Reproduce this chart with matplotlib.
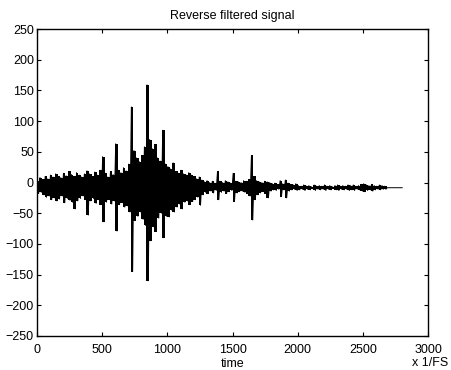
import numpy as np
import matplotlib.pyplot as plt

plt.rcParams['font.family'] = ['Liberation Sans', 'DejaVu Sans']

# envelope of the signal, one hi/lo pair per 20-sample bin
bin_width = 20
baseline = -8.5
sig_hi = [2, 8, 5, 10, 6, 12, 9, 14, 10, 8, 15, 11, 18, 13, 10, 16, 12, 9, 14, 19,
          14, 10, 17, 12, 20, 42, 15, 9, 18, 13, 63, 20, 16, 24, 19, 30, 123, 52, 40, 34,
          44, 58, 159, 70, 55, 62, 40, 35, 85, 30, 26, 22, 32, 18, 15, 20, 14, 12, 16, 12,
          10, 6, 9, 4, 1, 3, 0, 2, -1, 18, 2, 0, 3, 1, -1, 15, 2, 1, 0, 3,
          2, 5, 44, 10, 3, 1, 0, 2, 1, 0, -2, -1, -3, 3, -2, 4, -1, -3, -4, -2,
          -5, -6, -4, -6, -5, -7, -4, -6, -5, -6, -4, -6, -5, -7, -5, -4, -6, -5, -6, -4,
          -5, -4, -6, -5, -3, -2, -4, -5, -3, -5, -6, -4, -5, -6, -8.5, -8.5, -8.5, -8.5, -8.5, -8.5]
sig_lo = [-18, -16, -20, -24, -22, -28, -25, -30, -27, -22, -33, -26, -29, -32, -43, -30, -26, -22, -28, -53,
          -30, -26, -34, -28, -36, -64, -32, -28, -35, -30, -79, -36, -33, -40, -38, -48, -145, -62, -55, -48,
          -60, -70, -160, -95, -72, -80, -58, -50, -90, -55, -56, -45, -48, -40, -35, -43, -32, -30, -36, -31,
          -28, -24, -37, -20, -16, -18, -14, -17, -13, -28, -16, -14, -18, -15, -13, -31, -17, -15, -14, -16,
          -18, -22, -61, -28, -20, -17, -15, -18, -25, -14, -12, -13, -11, -23, -12, -25, -14, -12, -11, -13,
          -12, -11, -13, -11, -12, -10, -13, -11, -12, -11, -13, -11, -12, -10, -12, -13, -11, -12, -11, -13,
          -12, -13, -11, -12, -14, -15, -13, -12, -14, -12, -11, -12, -11, -11, -8.5, -8.5, -8.5, -8.5, -8.5, -8.5]

n_bins = len(sig_hi)
centers = np.arange(n_bins) * bin_width + bin_width / 2

# zigzag trace: hi then lo inside each bin
xs = [0]
ys = [baseline]
for i in range(n_bins):
    xs += [i * bin_width + 5, i * bin_width + 15]
    ys += [sig_hi[i], sig_lo[i]]
xs.append(n_bins * bin_width)
ys.append(baseline)

fig = plt.figure(figsize=(4.51, 3.70), dpi=100)
ax = fig.add_axes([0.0814, 0.0919, 0.8683, 0.8297])
# filled body of the dense trace
ax.fill_between(centers, sig_lo, sig_hi, step='mid', color='black', linewidth=0)
ax.plot(xs, ys, color='black', linewidth=0.7)

ax.set_xlim(0, 3000)
ax.set_ylim(-250, 250)
ax.set_xticks(np.arange(0, 3001, 500))
ax.set_yticks(np.arange(-250, 251, 50))
ax.tick_params(direction='in', top=True, right=True, length=3, width=0.8, labelsize=9)
ax.tick_params(axis='x', pad=6)
ax.tick_params(axis='y', pad=2)
for s in ax.spines.values():
    s.set_linewidth(1.0)

ax.set_title('Reverse filtered signal', fontsize=9, pad=7)
ax.set_xlabel('time', fontsize=9, labelpad=1)
ax.text(1.005, -0.068, 'x 1/FS', transform=ax.transAxes, fontsize=9, ha='center', va='top')

plt.savefig('out.png', dpi=100)
